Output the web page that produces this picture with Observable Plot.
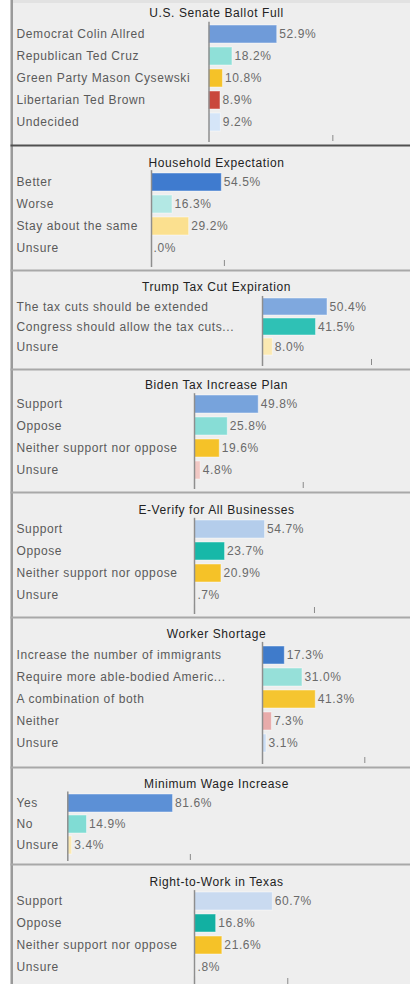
<!DOCTYPE html>
<html>
<head>
<meta charset="utf-8">
<script src="https://cdn.jsdelivr.net/npm/d3@7"></script>
<script src="https://cdn.jsdelivr.net/npm/@observablehq/plot@0.6"></script>
<style>
  html, body { margin: 0; padding: 0; background: #ffffff; }
  #root { position: relative; width: 410px; height: 984px; overflow: hidden; background: #ffffff; }
  #bg { position: absolute; left: 13px; top: 0; width: 397px; height: 984px; background: #eeeeee; }
  #topstrip { position: absolute; left: 13px; top: 0; width: 397px; height: 3px; background: #e2e2e2; }
  #edge1 { position: absolute; left: 10px; top: 0; width: 1px; height: 984px; background: #c9c9c9; }
  #edge2 { position: absolute; left: 11px; top: 0; width: 2px; height: 984px; background: #9a9a9a; }
  .panel { position: absolute; left: 0; }
  .panel svg { display: block; font-family: "Liberation Sans", Arial, sans-serif; letter-spacing: 0.6px; }
</style>
</head>
<body>
<div id="root">
  <div id="bg"></div>
  <div id="topstrip"></div>
  <div id="edge1"></div>
  <div id="edge2"></div>
</div>
<script>
// ---------- DATA ----------
const titles = [
  "U.S. Senate Ballot Full",
  "Household Expectation",
  "Trump Tax Cut Expiration",
  "Biden Tax Increase Plan",
  "E-Verify for All Businesses",
  "Worker Shortage",
  "Minimum Wage Increase",
  "Right-to-Work in Texas"
];

const senateCats = ["Democrat Colin Allred", "Republican Ted Cruz", "Green Party Mason Cysewski", "Libertarian Ted Brown", "Undecided"];
const senateVals = [52.9, 18.2, 10.8, 8.9, 9.2];
const senateColors = ["#6f9bd9", "#8fe0d8", "#f5c228", "#c9473c", "#d5e5f8"];

const householdCats = ["Better", "Worse", "Stay about the same", "Unsure"];
const householdVals = [54.5, 16.3, 29.2, 0.0];
const householdColors = ["#3f7bcf", "#b3e8e4", "#fbe08f", "#d5e5f8"];

const trumpCats = ["The tax cuts should be extended", "Congress should allow the tax cuts...", "Unsure"];
const trumpVals = [50.4, 41.5, 8.0];
const trumpColors = ["#7fa8de", "#2fc1b5", "#fbe9b2"];

const bidenCats = ["Support", "Oppose", "Neither support nor oppose", "Unsure"];
const bidenVals = [49.8, 25.8, 19.6, 4.8];
const bidenColors = ["#77a3dc", "#87ddd6", "#f5c228", "#f1c8c4"];

const everifyCats = ["Support", "Oppose", "Neither support nor oppose", "Unsure"];
const everifyVals = [54.7, 23.7, 20.9, 0.7];
const everifyColors = ["#b4cdeb", "#17b8a8", "#f5c228", "#d5e5f8"];

const workerCats = ["Increase the number of immigrants", "Require more able-bodied Americ...", "A combination of both", "Neither", "Unsure"];
const workerVals = [17.3, 31.0, 41.3, 7.3, 3.1];
const workerColors = ["#3f7bcb", "#96e0d9", "#f5c530", "#e8abaa", "#c9dcf4"];

const wageCats = ["Yes", "No", "Unsure"];
const wageVals = [81.6, 14.9, 3.4];
const wageColors = ["#5c90d6", "#80dcd4", "#fbe9b2"];

const rtwCats = ["Support", "Oppose", "Neither support nor oppose", "Unsure"];
const rtwVals = [60.7, 16.8, 21.6, 0.8];
const rtwColors = ["#c9daf0", "#12b0a2", "#f5c228", "#d5e5f8"];

// axis tick value shown at the bottom of each panel (percent)
const tickValues = [96, 56.5, 84.5, 84.3, 93, 79.3, 95, 72.3];

// ---------- LAYOUT (styles / positions only) ----------
const layout = [
  {top: 0,   h: 146, axisX: 208.5, first: 33.2, step: 22.75, titleY: 13, sep: "#505050"},
  {top: 146, h: 125, axisX: 151,   first: 35.5, step: 22.7,  titleY: 17, sep: "#a8a8a8"},
  {top: 271, h: 99,  axisX: 262,   first: 35.2, step: 20.5,  titleY: 16, sep: "#a8a8a8"},
  {top: 370, h: 123, axisX: 194,   first: 34.3, step: 22.2,  titleY: 15, sep: "#a8a8a8"},
  {top: 493, h: 125, axisX: 194,   first: 35.8, step: 22.0,  titleY: 17, sep: "#a8a8a8"},
  {top: 618, h: 150, axisX: 262,   first: 35.3, step: 22.8,  titleY: 16, sep: "#a8a8a8"},
  {top: 768, h: 97,  axisX: 67.3,  first: 34.2, step: 21.3,  titleY: 16, sep: "#a8a8a8"},
  {top: 865, h: 119, axisX: 194,   first: 36.2, step: 22.2,  titleY: 17, sep: null}
];
const pxPerPct = 1.29;

const panels = [
  [senateCats, senateVals, senateColors],
  [householdCats, householdVals, householdColors],
  [trumpCats, trumpVals, trumpColors],
  [bidenCats, bidenVals, bidenColors],
  [everifyCats, everifyVals, everifyColors],
  [workerCats, workerVals, workerColors],
  [wageCats, wageVals, wageColors],
  [rtwCats, rtwVals, rtwColors]
];

// Tableau clips the leading "0" of sub-1% labels against the axis line
const fmt = v => (v < 1 ? v.toFixed(1).slice(1) : v.toFixed(1)) + "%";

const root = document.getElementById("root");

panels.forEach(([cats, vals, colors], i) => {
  const L = layout[i];
  const rows = cats.map((c, j) => ({cat: c, value: vals[j], color: colors[j]}));
  const n = cats.length;
  const r0 = L.first - L.step / 2;
  const r1 = r0 + n * L.step;
  const marks = [
    Plot.barX(rows, {x: "value", y: "cat", fill: "color", stroke: "#ffffff", strokeOpacity: 0.45, strokeWidth: 1}),
    Plot.ruleX([0], {stroke: "#8e8e8e", strokeWidth: 1.5, insetTop: r0, insetBottom: i === 7 ? 0 : 4}),
    Plot.ruleX([tickValues[i]], {stroke: "#8a8a8a", strokeWidth: 1, insetTop: L.h - (i === 7 ? 6 : 11), insetBottom: i === 7 ? 0 : 5}),
    Plot.text(rows, {x: "value", y: "cat", text: d => fmt(d.value), textAnchor: "start", dx: 2, fill: "#6a6a6a", fontSize: 12}),
    Plot.text(rows, {y: "cat", text: "cat", frameAnchor: "left", dx: 16, textAnchor: "start", fill: "#5a5a5a", fontSize: 12}),
    Plot.text([titles[i]], {frameAnchor: "top", lineAnchor: "middle", dy: L.titleY, dx: 11, text: d => d, fill: "#222222", fontSize: 12})
  ];
  if (L.sep) marks.push(Plot.frame({anchor: "bottom", insetLeft: 11, insetBottom: 1, stroke: L.sep, strokeWidth: 2}));
  const chart = Plot.plot({
    width: 410,
    height: L.h,
    margin: 0,
    x: {domain: [0, 100], range: [L.axisX, L.axisX + 100 * pxPerPct], axis: null},
    y: {domain: cats, range: [r0, r1], paddingInner: 0.16, paddingOuter: 0.08, align: 0.5, axis: null},
    style: {background: "transparent", overflow: "visible"},
    marks
  });
  const div = document.createElement("div");
  div.className = "panel";
  div.style.top = L.top + "px";
  div.appendChild(chart);
  root.appendChild(div);
});
</script>
</body>
</html>
